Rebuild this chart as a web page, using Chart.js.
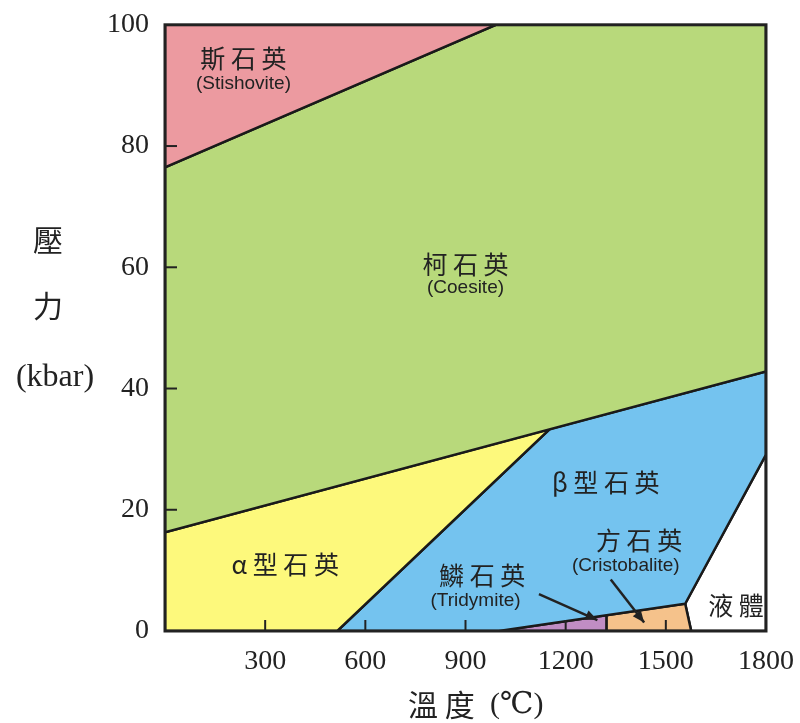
<!DOCTYPE html>
<html><head><meta charset="utf-8">
<script src="https://cdn.jsdelivr.net/npm/chart.js@4"></script>
<style>html,body{margin:0;padding:0;background:#fff}#c{display:block}</style>
</head><body>
<canvas id="c" width="800" height="723"></canvas>
<script>
const xTicks=[300,600,900,1200,1500,1800];
const yTicks=[0,20,40,60,80,100];
const stishovite=[[0,76.5],[991,100],[0,100]];
const coesite=[[0,16.3],[1800,42.8],[1800,100],[991,100],[0,76.5]];
const alphaQ=[[0,0],[516,0],[1152,33.3],[0,16.3]];
const betaQ=[[516,0],[1000,0],[1558,4.5],[1800,29.1],[1800,42.8],[1152,33.3]];
const tridymite=[[1000,0],[1322,0],[1322,2.6]];
const cristobalite=[[1322,0],[1576,0],[1558,4.5],[1322,2.6]];
const liquid=[[1576,0],[1800,0],[1800,29.1],[1558,4.5]];
const regions=[stishovite,coesite,alphaQ,betaQ,tridymite,cristobalite,liquid];
const colors=['#ec9aa0','#b8d97b','#fdf97c','#74c3ef','#c08dc4','#f5c28b','#ffffff'];
const labels=[
 ['斯 石 英',235,94.5,'cjk'],['(Stishovite)',235,90.2,'en'],
 ['柯 石 英',900,60.5,'cjk'],['(Coesite)',900,56.6,'en'],
 ['β 型 石 英',1320,24.5,'cjk'],
 ['α 型 石 英',360,10.9,'cjk'],
 ['鱗 石 英',950,9.2,'cjk'],['(Tridymite)',930,5,'en'],
 ['方 石 英',1420,15,'cjk'],['(Cristobalite)',1380,10.7,'en'],
 ['液 體',1710,4.2,'cjk']];
const arrows=[[[1120,6.1],[1295,1.8]],[[1335,8.5],[1435,1.4]]];
const pts=a=>{const p=a.map(v=>({x:v[0],y:v[1]}));p.push({x:a[0][0],y:a[0][1]});return p;};
const serif="'Liberation Serif','DejaVu Serif',serif";
const deco={id:'deco',
 afterDatasetsDraw(ch){
  const c=ch.ctx,xs=ch.scales.x,ys=ch.scales.y,a=ch.chartArea;
  c.save();c.strokeStyle='#222';c.lineWidth=2;
  xTicks.slice(0,5).forEach(t=>{const px=xs.getPixelForValue(t);c.beginPath();c.moveTo(px,a.bottom);c.lineTo(px,a.bottom-11);c.stroke();});
  yTicks.slice(1,5).forEach(t=>{const py=ys.getPixelForValue(t);c.beginPath();c.moveTo(a.left,py);c.lineTo(a.left+12,py);c.stroke();});
  c.lineWidth=3;c.strokeRect(a.left,a.top,a.right-a.left,a.bottom-a.top);
  c.fillStyle='#222';c.textAlign='center';c.textBaseline='middle';
  labels.forEach(l=>{c.font=l[3]==='cjk'?"25px 'Noto Sans CJK TC'":"19px 'Liberation Sans',Arial,sans-serif";
   c.fillText(l[0],xs.getPixelForValue(l[1]),ys.getPixelForValue(l[2]));});
  c.lineWidth=2.5;
  arrows.forEach(ar=>{const x1=xs.getPixelForValue(ar[0][0]),y1=ys.getPixelForValue(ar[0][1]),x2=xs.getPixelForValue(ar[1][0]),y2=ys.getPixelForValue(ar[1][1]);
   c.beginPath();c.moveTo(x1,y1);c.lineTo(x2,y2);c.stroke();
   const ang=Math.atan2(y2-y1,x2-x1),L=13,w=0.4;
   c.beginPath();c.moveTo(x2,y2);c.lineTo(x2-L*Math.cos(ang-w),y2-L*Math.sin(ang-w));c.lineTo(x2-L*Math.cos(ang+w),y2-L*Math.sin(ang+w));c.closePath();c.fill();});
  c.font="30px 'Noto Sans CJK TC'";
  c.fillText('壓',48,240);c.fillText('力',48,306);
  c.font="32px "+serif;c.fillText('(kbar)',55,378);
  c.font="30px 'Noto Sans CJK TC'";c.textAlign='left';
  c.fillText('溫 度',408,705);
  c.font="30px "+serif;c.fillText('(℃)',490,705);
  c.restore();}};
new Chart(document.getElementById('c'),{type:'scatter',
 data:{datasets:regions.map((r,i)=>({data:pts(r),showLine:true,fill:'shape',backgroundColor:colors[i],borderColor:'#1a1a1a',borderWidth:2.5,pointRadius:0,tension:0}))},
 options:{responsive:false,animation:false,layout:{padding:{top:-4,right:32,left:0,bottom:0}},
  plugins:{legend:{display:false},tooltip:{enabled:false}},
  scales:{
   x:{type:'linear',min:0,max:1800,afterBuildTicks:s=>{s.ticks=[0].concat(xTicks).map(v=>({value:v}));},
    afterFit:s=>{s.height=92;},grid:{display:false},border:{display:false},
    ticks:{padding:6,color:'#222',font:{family:serif,size:28},callback:v=>v===0?'':v,maxRotation:0,autoSkip:false}},
   y:{type:'linear',min:0,max:100,afterBuildTicks:s=>{s.ticks=yTicks.map(v=>({value:v}));},
    afterFit:s=>{s.width=165;},grid:{display:false},border:{display:false},
    ticks:{padding:8,color:'#222',font:{family:serif,size:28}}}}},
 plugins:[deco]});
</script></body></html>
